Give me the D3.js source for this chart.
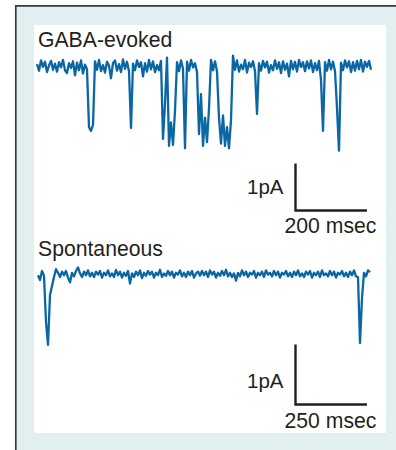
<!DOCTYPE html>
<html>
<head>
<meta charset="utf-8">
<script src="https://cdn.jsdelivr.net/npm/d3@7"></script>
<style>
  body { margin: 0; background: #fff; }
  text { font-family: "Liberation Sans", Arial, sans-serif; fill: #231f20; }
</style>
</head>
<body>
<div id="chart"></div>
<script>
// GABA-evoked trace, pA, one sample every 5.6 ms
const gabaSampleMs = 5.6;
const gabaCurrent = [
  0.04, -0.10, 0.12, -0.02, 0.09, -0.13, 0.01, 0.11, -0.08, 0.05,
  -0.12, 0.08, -0.03, 0.13, -0.09, -0.15, 0.06, -0.04, 0.10, -0.20,
  0.07, -0.09, 0.12, -0.16, 0.03, -0.07, -1.30, -1.38, -1.25, 0.10,
  -0.08, 0.13, -0.11, 0.02, -0.14, 0.09, 0.01, -0.26, 0.06, 0.12,
  -0.10, 0.04, -0.13, 0.14, -0.06, 0.09, -0.11, -1.32, 0.05, -0.09,
  0.12, -0.02, 0.08, -0.22, 0.06, -0.12, 0.13, -0.07, 0.10, -0.13,
  0.02, -0.09, 0.11, -1.55, -0.80, 0.18, -1.70, -1.20, -1.68, -0.95,
  0.08, -0.11, 0.12, -0.06, -1.75, 0.09, -0.10, 0.13, -0.03, 0.06,
  -0.13, -1.45, -0.60, -1.70, -1.10, -1.62, -0.90, 0.13, -0.09, 0.10,
  -0.11, -1.10, -1.65, -1.05, -1.70, -1.30, -1.75, -1.15, 0.22, -0.08,
  0.12, -0.12, 0.03, -0.07, 0.13, -0.14, 0.07, -0.02, 0.10, -0.11,
  -1.02, 0.06, -0.10, 0.11, -0.03, 0.09, -0.14, 0.02, -0.09, 0.12,
  -0.06, 0.08, -0.15, 0.10, -0.08, 0.05, -0.22, 0.11, -0.07, 0.09,
  -0.12, 0.13, -0.02, 0.08, -0.11, 0.10, -0.05, 0.12, -0.13, 0.06,
  -0.09, 0.11, -0.30, -1.38, 0.08, -0.10, 0.13, -0.07, 0.09, -0.11,
  -0.90, -1.80, 0.07, -0.09, 0.12, -0.03, 0.10, -0.13, 0.08, -0.10,
  0.11, -0.07, 0.13, -0.12, 0.09, -0.02, 0.11, -0.08
];

// Spontaneous trace, pA, one sample every 7 ms
const spontSampleMs = 7.0;
const spontCurrent = [
  -0.02, -0.10, 0.05, -0.03, -0.80, -1.18, -0.35, -0.20, -0.05, 0.08,
  0.02, -0.05, 0.04, -0.02, 0.05, -0.06, -0.14, 0.02, -0.04, 0.05,
  0.11, 0.01, -0.05, 0.04, -0.02, 0.06, -0.04, 0.02, -0.05, 0.04,
  -0.01, 0.05, -0.06, 0.02, -0.02, 0.06, -0.04, 0.01, -0.05, 0.07,
  -0.02, 0.04, -0.06, 0.02, -0.03, 0.05, -0.16, 0.01, -0.05, 0.04,
  -0.02, 0.06, -0.07, 0.02, -0.03, 0.05, -0.01, 0.04, -0.06, 0.02,
  -0.02, 0.07, -0.05, 0.01, -0.03, 0.05, -0.02, 0.04, -0.06, 0.02,
  -0.01, 0.06, -0.04, 0.02, -0.05, 0.04, -0.02, 0.05, -0.06, 0.01,
  0.04, -0.03, 0.05, -0.02, 0.04, -0.05, 0.06, -0.01, 0.04, -0.06,
  0.02, -0.03, 0.05, -0.02, 0.07, -0.04, 0.02, -0.05, 0.01, -0.11,
  0.02, -0.04, 0.06, -0.02, 0.04, -0.05, 0.02, -0.01, 0.05, -0.06,
  0.02, -0.02, 0.04, -0.05, 0.06, -0.01, 0.02, -0.04, 0.05, -0.02,
  0.04, -0.06, 0.02, -0.01, 0.05, -0.04, 0.02, -0.05, 0.04, -0.02,
  0.06, -0.04, 0.01, -0.05, 0.04, -0.01, 0.05, -0.06, 0.02, -0.02,
  0.04, -0.05, 0.06, -0.02, 0.01, -0.04, 0.05, -0.02, 0.04, -0.06,
  0.02, -0.01, 0.05, -0.04, 0.02, -0.05, 0.04, -0.02, 0.06, -0.04,
  -0.05, -1.15, -0.40, 0.02, -0.04, 0.06, 0.03
];

// scale bars: [pA, ms]
const gabaScaleBar = [1, 200];
const spontScaleBar = [1, 250];
const labels = ['GABA-evoked', 'Spontaneous'];

const W = 396, H = 450;
const traceColour = '#0a67a3';

const svg = d3.select('#chart').append('svg')
    .attr('width', W)
    .attr('height', H);

// frame
svg.append('rect')
    .attr('x', 16).attr('y', 6)
    .attr('width', W - 16).attr('height', H - 6)
    .attr('fill', '#e1eff0');
svg.append('path')
    .attr('d', 'M15.8,' + H + 'V5.8H' + W)
    .attr('fill', 'none')
    .attr('stroke', '#3a3a3a')
    .attr('stroke-width', 1.7);
svg.append('rect')
    .attr('x', 34).attr('y', 25)
    .attr('width', 352).attr('height', 408)
    .attr('fill', '#fff');

function drawPanel(cfg) {
  const x = d3.scaleLinear()
      .domain([0, (cfg.values.length - 1) * cfg.dt])
      .range(cfg.xRange);
  const y = d3.scaleLinear()
      .domain([0, -1])
      .range([cfg.baseline, cfg.baseline + cfg.pxPerPA]);

  const line = d3.line()
      .x((d, i) => x(i * cfg.dt))
      .y(d => y(d));

  svg.append('text')
      .attr('x', 38)
      .attr('y', cfg.labelY)
      .attr('font-size', 21.2)
      .text(cfg.label);

  svg.append('path')
      .datum(cfg.values)
      .attr('fill', 'none')
      .attr('stroke', traceColour)
      .attr('stroke-width', 2.3)
      .attr('stroke-linejoin', 'round')
      .attr('d', line);

  // scale bar
  const bx = 295.5, by = cfg.barBottom;
  const barH = y(-cfg.bar[0]) - y(0);
  const barW = x(cfg.bar[1]) - x(0);
  svg.append('path')
      .attr('d', 'M' + bx + ',' + (by - barH) + 'V' + by + 'H' + (bx + barW))
      .attr('fill', 'none')
      .attr('stroke', '#231f20')
      .attr('stroke-width', 2.4);

  svg.append('text')
      .attr('x', 283.5)
      .attr('y', cfg.paY)
      .attr('text-anchor', 'end')
      .attr('font-size', 20.5)
      .text(cfg.bar[0] + 'pA');
  svg.append('text')
      .attr('x', 284.5)
      .attr('y', cfg.msY)
      .attr('font-size', 21.2)
      .text(cfg.bar[1] + ' msec');
}

drawPanel({
  values: gabaCurrent, dt: gabaSampleMs, xRange: [37, 371],
  baseline: 66, pxPerPA: 47, label: labels[0], labelY: 46.5,
  bar: gabaScaleBar, barBottom: 210.5, paY: 194, msY: 233
});
drawPanel({
  values: spontCurrent, dt: spontSampleMs, xRange: [38, 370],
  baseline: 274, pxPerPA: 60, label: labels[1], labelY: 256,
  bar: spontScaleBar, barBottom: 404.5, paY: 387.5, msY: 427.5
});
</script>
</body>
</html>
